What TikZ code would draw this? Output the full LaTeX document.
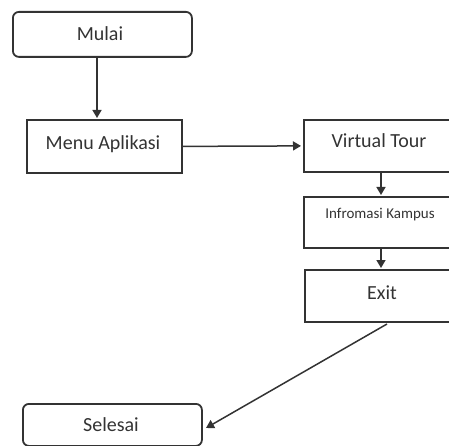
\documentclass[tikz,border=0pt]{standalone}
\usepackage{fontspec}
\setmainfont{Carlito}
\usetikzlibrary{arrows.meta}
\definecolor{ink}{HTML}{333333}
\begin{document}
\begin{tikzpicture}[x=1pt,y=-1pt,
  every node/.style={text=ink},
  boxbase/.style={draw=ink,line width=1.8pt,inner sep=0pt,anchor=north west},
  term/.style={boxbase,rounded corners=6pt},
  proc/.style={boxbase},
  lbl/.style={font=\fontsize{20}{24}\selectfont},
  conn/.style={draw=ink,line width=1.5pt,-{Triangle[length=8pt,width=9pt]}}]
\useasboundingbox (0,0) rectangle (449,446);
\clip (0,0) rectangle (449,446);
% boxes
\node[term,minimum width=179pt,minimum height=45pt] (mulai) at (12,11) {};
\node[proc,minimum width=155pt,minimum height=53pt] (menu) at (26,119) {};
\node[proc,minimum width=154pt,minimum height=52pt] (vt) at (303,119) {};
\node[proc,minimum width=154pt,minimum height=51pt] (info) at (303,196) {};
\node[proc,minimum width=154pt,minimum height=52pt] (exit) at (304,269) {};
\node[term,minimum width=179pt,minimum height=42pt] (selesai) at (22,403) {};
% texts
\node[lbl] (tmulai) at (100,34) {Mulai};
\node[lbl] (tmenu) at (103,144) {Menu Aplikasi};
\node[lbl] (tvt) at (379,141) {Virtual Tour};
\node[font=\fontsize{15}{18}\selectfont] (tinfo) at (380,215) {Infromasi Kampus};
\node[lbl] (texit) at (382,293) {Exit};
\node[lbl] (tsel) at (111,425) {Selesai};
% connectors
\coordinate (a1) at (97,57);
\coordinate (a1e) at (97,118);
\draw[conn] (a1) -- (a1e);
\draw[conn] (menu.east) -- ([xshift=-2pt]vt.west);
\coordinate (b1) at (381,171);
\coordinate (b1e) at (381,195);
\draw[conn] (b1) -- (b1e);
\coordinate (c1) at (381,248);
\coordinate (c1e) at (381,268);
\draw[conn] (c1) -- (c1e);
\coordinate (d1) at (387,324);
\coordinate (d1e) at (206,428);
\draw[conn] (d1) -- (d1e);
\end{tikzpicture}
\end{document}
